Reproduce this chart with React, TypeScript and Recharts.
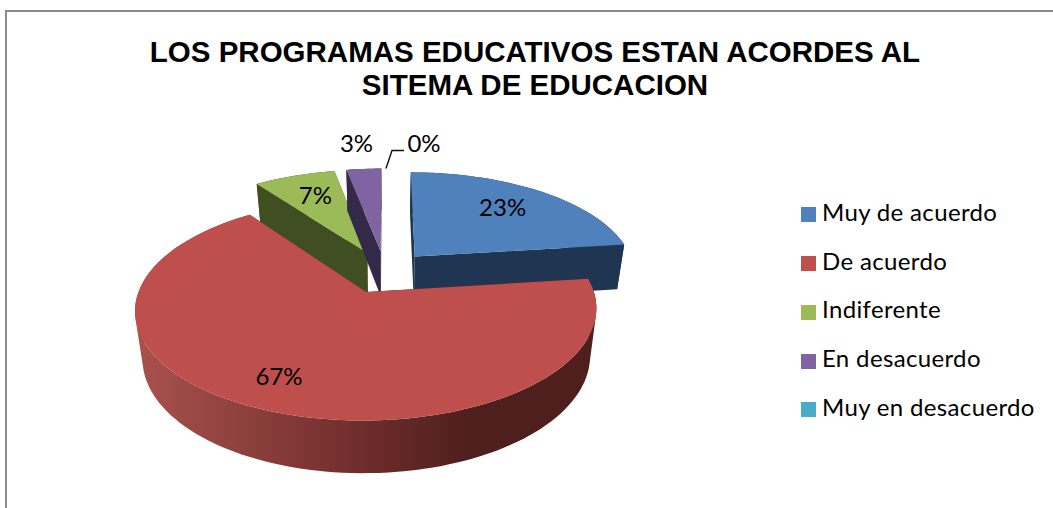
import { PieChart, Pie, Legend } from "recharts";

const categories = ["Muy de acuerdo", "De acuerdo", "Indiferente", "En desacuerdo", "Muy en desacuerdo"];
const percents = [23, 67, 7, 3, 0];
const topColors = ["#4F81BD", "#BE4F4D", "#9BBB59", "#8064A2", "#4BACC6"];
const sideColors = ["#1F3552", "#4F1F1D", "#404F22", "#35294A", "#1F4E5C"];
const titleLines = ["LOS PROGRAMAS EDUCATIVOS ESTAN ACORDES AL", "SITEMA DE EDUCACION"];

const chartData = categories.map((name, i) => ({
  name,
  value: percents[i],
  fill: topColors[i],
  side: sideColors[i],
}));

// 3D look: the pie is tilted with a light perspective and the slices pulled apart
const RADIUS = 221;
const EXPLODE = 46;
const TILT = 0.46;
const PERSPECTIVE = 0.155;
const rad = (d: number) => (d * Math.PI) / 180;

type Pt = { x: number; y: number };

const project = (cx: number, cy: number, theta: number, r: number, mid: number, lower = false): Pt => {
  const xm = r * Math.sin(rad(theta)) + EXPLODE * Math.sin(rad(mid));
  const ym = r * Math.cos(rad(theta)) + EXPLODE * Math.cos(rad(mid));
  const s = 1 / (1 + (PERSPECTIVE * ym) / RADIUS);
  const x = xm * s;
  const y = -TILT * ym * s;
  if (lower) return { x: cx + x * 0.97, y: cy + y * 1.045 + 46 };
  return { x: cx + x, y: cy + y };
};

const toPath = (pts: Pt[]) =>
  pts.map((p, i) => `${i ? "L" : "M"}${p.x.toFixed(1)} ${p.y.toFixed(1)}`).join(" ") + " Z";

// all quads wound the same way, else the overlapping ones cancel under nonzero fill
const wound = (pts: Pt[]) => {
  const area = pts.reduce((sum, p, i) => {
    const q = pts[(i + 1) % pts.length];
    return sum + p.x * q.y - q.x * p.y;
  }, 0);
  return area < 0 ? [...pts].reverse() : pts;
};

const Slice = (props: any) => {
  const { cx, cy, startAngle, endAngle, outerRadius, fill, side, value } = props;
  if (!value) return null;
  const from = 90 - startAngle;
  const to = 90 - endAngle;
  const mid = (from + to) / 2;
  const steps = Math.max(8, Math.round((to - from) / 2));
  const angles = Array.from({ length: steps + 1 }, (_, i) => from + ((to - from) * i) / steps);
  const top = angles.map((a) => project(cx, cy, a, outerRadius, mid));
  const bottom = angles.map((a) => project(cx, cy, a, outerRadius, mid, true));
  const apex = project(cx, cy, 0, 0, mid);
  const apexLow = project(cx, cy, 0, 0, mid, true);
  const isRed = fill === topColors[1];
  const wallPath = angles
    .slice(1)
    .map((_, i) => toPath(wound([top[i], top[i + 1], bottom[i + 1], bottom[i]])))
    .join(" ");
  return (
    <g>
      <path d={toPath([apex, top[0], bottom[0], apexLow])} fill={side} />
      <path d={toPath([apex, top[steps], bottom[steps], apexLow])} fill={side} />
      {isRed && (
        <defs>
          <linearGradient id="redSide" gradientUnits="userSpaceOnUse" x1={136} y1={0} x2={596} y2={0}>
            <stop offset="0" stopColor="#A9524E" />
            <stop offset="0.4" stopColor="#7A3432" />
            <stop offset="0.72" stopColor="#4F1F1D" />
            <stop offset="1" stopColor="#4F1F1D" />
          </linearGradient>
        </defs>
      )}
      <path d={wallPath} fill={isRed ? "url(#redSide)" : side} />
      <path d={toPath([apex, ...top])} fill={fill} />
    </g>
  );
};

// red has to sit over the other slices, so it goes in a second pass
const OtherSlices = (props: any) => (props.fill === topColors[1] ? null : <Slice {...props} />);
const RedSlice = (props: any) => (props.fill === topColors[1] ? <Slice {...props} /> : null);

const labelRadius = [165, 165, 161, 305, 305];
const labelNudge = [-8, -9, 3, -2, 39];

const SliceLabel = (props: any) => {
  const { cx, cy, midAngle, index, value } = props;
  const theta = 90 - midAngle;
  const p = project(cx, cy, theta, labelRadius[index], theta);
  const x = p.x + labelNudge[index];
  const rim = project(cx, cy, theta, RADIUS, theta);
  return (
    <g>
      {value === 0 && (
        <polyline
          points={`${rim.x + 1},${rim.y} ${rim.x + 7},${p.y + 8} ${rim.x + 19},${p.y + 8}`}
          fill="none"
          stroke="#111"
          strokeWidth={1.4}
        />
      )}
      <text x={x} y={p.y} textAnchor="middle" dominantBaseline="central" fontFamily="Lato" fontSize={24} fill="#000">
        {value}%
      </text>
    </g>
  );
};

const App = () => (
  <div style={{ position: "absolute", left: 0, top: 0, width: 1053, height: 508, overflow: "hidden", background: "#fff" }}>
    <div
      style={{
        position: "absolute",
        left: 5,
        top: 10,
        width: 1200,
        height: 800,
        border: "2px solid #8A8A8A",
      }}
    />
    <PieChart width={1053} height={508} margin={{ top: 0, right: 0, bottom: 0, left: 0 }}>
      <text textAnchor="middle" fontFamily="Liberation Sans" fontWeight="bold" fontSize={29.5} fill="#000">
        <tspan x={535} y={62}>{titleLines[0]}</tspan>
        <tspan x={535} y={95}>{titleLines[1]}</tspan>
      </text>
      <Pie
        data={chartData}
        dataKey="value"
        nameKey="name"
        cx={385}
        cy={272}
        outerRadius={RADIUS}
        startAngle={90}
        endAngle={-270}
        stroke="none"
        shape={OtherSlices}
        isAnimationActive={false}
      />
      <Pie
        data={chartData}
        dataKey="value"
        nameKey="name"
        cx={385}
        cy={272}
        outerRadius={RADIUS}
        startAngle={90}
        endAngle={-270}
        stroke="none"
        shape={RedSlice}
        label={SliceLabel}
        labelLine={false}
        legendType="none"
        isAnimationActive={false}
      />
      <Legend
        layout="vertical"
        align="right"
        verticalAlign="top"
        iconType="square"
        iconSize={15}
        itemSorter={null}
        wrapperStyle={{ left: 801, top: 188, width: 250, lineHeight: "48.7px", fontFamily: "Lato", fontSize: 24 }}
        formatter={(v: string) => <span style={{ color: "#000", paddingLeft: 2, letterSpacing: 0.35 }}>{v}</span>}
      />
    </PieChart>
  </div>
);

export default App;
